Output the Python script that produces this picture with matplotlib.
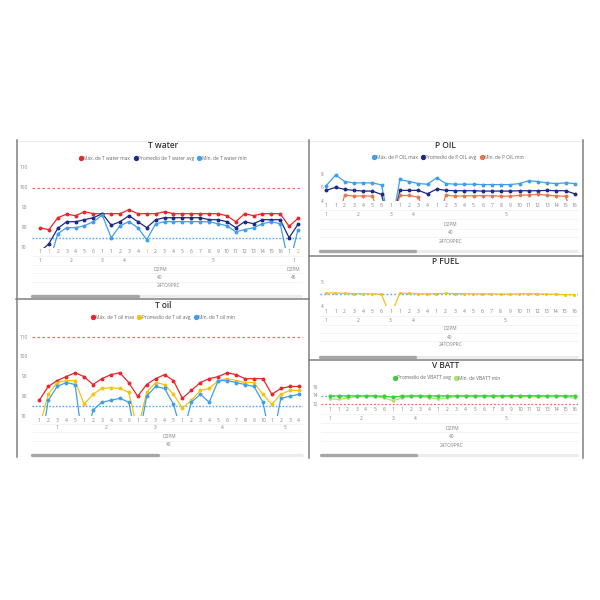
import matplotlib
matplotlib.use("Agg")
import matplotlib.pyplot as plt
from matplotlib.lines import Line2D
from matplotlib.transforms import blended_transform_factory as blend

plt.rcParams['font.family'] = ['Open Sans', 'DejaVu Sans']

# ---- data ----
# T water (30 points)
tw_max = [80, 79, 85, 86.8, 86, 88, 87, 87, 87, 87, 89, 87, 87, 87, 88, 87, 87, 87, 87, 87,
          87, 86, 83, 87, 86, 87, 87, 87, 80.7, 84.7]
tw_avg = [68, 72, 79.7, 83, 83, 84, 85, 87, 81.3, 83, 86, 83, 80, 84, 85, 85, 85, 85, 85, 84,
          84, 83, 80, 83, 82, 84, 84, 84, 75, 81.7]
tw_min = [62, 62, 77, 80, 80, 81, 83, 86.3, 75, 81, 83, 80, 74, 82, 83, 83, 83, 83, 83, 83,
          82, 81, 78, 79, 80, 82, 83, 82, 61, 79]
tw_lvl1 = ['1', '1', '2', '3', '4', '5', '6', '1', '1', '2', '3', '4'] + \
          [str(i) for i in range(1, 17)] + ['1', '2']
tw_groups = [[('1', 0, 0), ('2', 1, 6), ('3', 7, 7), ('4', 8, 11), ('5', 12, 27), ('1', 28, 29)],
             [('D2PM', 0, 27), ('D2PM', 28, 29)],
             [('40', 0, 27), ('46', 28, 29)],
             [('24TO9PRC', 0, 29)]]
tw_orange = [1, 12, 29]

# T oil (30 points)
to_max = [78, 85, 88, 90, 92, 90, 86, 89, 91, 92, 87, 80, 86, 89, 91, 88, 79, 83, 87, 89,
          90, 92, 91, 89, 89, 89, 81, 84, 85, 85]
to_avg = [64, 81, 87, 88, 88, 76, 81, 84, 84.4, 84, 82, 63, 82, 87, 86, 81, 74, 78, 83, 84,
          88, 89, 88, 87, 87, 81, 76, 81, 83, 83]
to_min = [50, 78, 85, 87, 86, 52, 73, 77, 78, 79, 77, 55, 80, 85, 84, 76, 60, 77, 81, 77,
          88, 88, 87, 86, 85, 77, 55, 79, 80, 81]
to_lvl1 = [str(i) for i in range(1, 6)] + [str(i) for i in range(1, 7)] + \
          [str(i) for i in range(1, 6)] + [str(i) for i in range(1, 11)] + [str(i) for i in range(1, 5)]
to_groups = [[('1', 0, 4), ('2', 5, 10), ('3', 11, 15), ('4', 16, 25), ('5', 26, 29)],
             [('D2PM', 0, 29)],
             [('40', 0, 29)]]

# right column charts share one 28 point axis
r_lvl1 = ['1', '1', '2', '3', '4', '5', '6', '1', '1', '2', '3', '4'] + [str(i) for i in range(1, 17)]
r_groups = [[('1', 0, 0), ('2', 1, 6), ('3', 7, 7), ('4', 8, 11), ('5', 12, 27)],
            [('D2PM', 0, 27)],
            [('40', 0, 27)],
            [('24TO9PRC', 0, 27)]]

po_max = [6.3, 7.85, 6.9, 6.7, 6.7, 6.7, 6.4, -0.2, 7.2, 6.9, 6.6, 6.5, 7.45, 6.6, 6.5, 6.5,
          6.5, 6.45, 6.45, 6.45, 6.45, 6.6, 7.0, 6.9, 6.7, 6.6, 6.7, 6.6]
po_avg = [5.6, 6.05, 5.75, 5.6, 5.5, 5.5, 5.0, -0.2, 5.6, 5.6, 5.6, 5.1, 5.8, 5.6, 5.55, 5.55,
          5.55, 5.5, 5.5, 5.5, 5.5, 5.55, 5.55, 5.55, 5.6, 5.55, 5.55, 5.1]
po_min = [0, 0, 4.93, 4.75, 4.8, 4.73, 1.4, 0, 4.85, 4.85, 4.6, 1.3, 0.5, 4.93, 4.75, 4.8,
          4.8, 4.83, 4.8, 4.75, 4.75, 4.88, 4.93, 5.02, 4.9, 4.8, 4.73, 1.0]

pf_val = [4.55, 4.55, 4.53, 4.52, 4.52, 4.51, 4.50, 3.55, 4.54, 4.53, 4.51, 4.51, 4.52, 4.53,
          4.52, 4.52, 4.51, 4.51, 4.51, 4.50, 4.50, 4.51, 4.52, 4.51, 4.50, 4.49, 4.48, 4.47]

vb_avg = [14.0, 14.0, 14.0, 14.0, 14.0, 14.0, 13.9, 13.7, 13.95, 14.0, 14.0, 14.0, 14.0, 14.0,
          14.0, 14.0, 14.0, 14.0, 14.0, 14.0, 14.0, 14.05, 14.05, 14.0, 14.0, 14.0, 14.0, 14.0]
vb_min = [13.3, 13.2, 13.5, 13.9, 13.9, 13.9, 13.5, 12.9, 13.5, 13.9, 13.9, 13.5, 13.3, 13.5,
          13.9, 13.9, 13.9, 13.9, 13.9, 13.9, 13.9, 13.9, 13.9, 13.9, 13.9, 13.9, 13.9, 13.4]

RED = '#e8262f'
NAVY = '#1c2a86'
LBLUE = '#3f9fe8'
YELLOW = '#f2c40f'
ORANGE = '#e8784c'
GREEN = '#3ccf3c'
LGREEN = '#a9e26e'
REFRED = '#f06b6b'
REFBLUE = '#5aa8ec'
GRAYTXT = '#808080'

fig = plt.figure(figsize=(6, 6), dpi=100)
bg = fig.add_axes([0, 0, 1, 1])
bg.set_xlim(0, 600)
bg.set_ylim(600, 0)
bg.axis('off')


def make_ax(box, xpts, n, yref, ypx):
    left, top, right, bottom = box
    x0, x1 = xpts
    ax = fig.add_axes([left / 600, 1 - bottom / 600, (right - left) / 600, (bottom - top) / 600])
    dx = (x1 - x0) / (n - 1)
    ax.set_xlim(-(x0 - left) / dx, n - 1 + (right - x1) / dx)
    va, vb = yref
    pa, pb = ypx
    k = (va - vb) / (pb - pa)
    ax.set_ylim(vb - (bottom - pb) * k, va + (pa - top) * k)
    ax.patch.set_alpha(0)
    ax.axis('off')
    return ax


def yticks(ax, ticks, xpx):
    tr = blend(bg.transData, ax.transData)
    for t in ticks:
        ax.text(xpx, t, str(t), transform=tr, ha='center', va='center', fontsize=3.4, color=GRAYTXT)


def xlabels(ax, lvl1, groups, rows, left, right, orange=()):
    tr = blend(ax.transData, bg.transData)
    for i, s in enumerate(lvl1):
        c = '#e39b3b' if i in orange else GRAYTXT
        ax.text(i, rows[0], s, transform=tr, ha='center', va='center', fontsize=3.6, color=c)
    for row, grp in zip(rows[1:], groups):
        for s, a, b in grp:
            ax.text((a + b) / 2, row, s, transform=tr, ha='center', va='center', fontsize=3.5, color=GRAYTXT)
    for r0, r1 in zip(rows[:-1], rows[1:]):
        m = (r0 + r1) / 2
        bg.plot([left, right], [m, m], color='#f0f0f0', lw=0.5)


def title(x, y, s):
    bg.text(x, y, s, ha='center', va='center', fontsize=6.0, color='#333333', fontweight='semibold')


def legend(cx, cy, items):
    hs = [Line2D([], [], marker='o', ls='', color=c, ms=2.8, label=l) for l, c in items]
    fig.legend(handles=hs, loc='center', bbox_to_anchor=(cx / 600, 1 - cy / 600), ncol=len(hs),
               frameon=False, fontsize=3.5, labelcolor='#666666', handlelength=0.6,
               handletextpad=0.15, columnspacing=0.8, borderpad=0, borderaxespad=0)


def scrollbar(y, x0, x1, xend):
    bg.plot([x0, xend], [y, y], color='#ececec', lw=2.2, solid_capstyle='butt')
    bg.plot([x0, x1], [y, y], color='#a6a6a6', lw=2.4, solid_capstyle='round')


def series(ax, vals, color, ms=1.8):
    ax.plot(range(len(vals)), vals, color=color, lw=0.9, marker='o', ms=ms)


# ---- T water ----
ax = make_ax((31.5, 164, 302, 247.7), (40, 298), 30, (110, 70), (167.7, 247.7))
ax.axhline(100, color=REFRED, ls=(0, (2, 2)), lw=0.9)
ax.axhline(75, color=REFBLUE, ls=(0, (1.2, 1.2)), lw=1.0)
series(ax, tw_max, RED)
series(ax, tw_avg, NAVY)
series(ax, tw_min, LBLUE)
yticks(ax, [70, 80, 90, 100, 110], 24)
xlabels(ax, tw_lvl1, tw_groups, [251.7, 260, 269.3, 277.3, 285.7], 31.5, 302, tw_orange)
title(163, 145, 'T water')
legend(163, 158.3, [('Máx. de T water max', RED), ('Promedio de T water avg', NAVY),
                    ('Mín. de T water min', LBLUE)])
scrollbar(295.7, 31.7, 138, 302)

# ---- T oil ----
ax = make_ax((31.5, 325, 303, 416), (39.3, 298.7), 30, (110, 70), (337.3, 416))
ax.axhline(110, color=REFRED, ls=(0, (2, 2)), lw=0.9)
ax.axhline(75, color=REFBLUE, ls=(0, (1.2, 1.2)), lw=1.0)
series(ax, to_max, RED)
series(ax, to_avg, YELLOW)
series(ax, to_min, LBLUE)
yticks(ax, [70, 80, 90, 100, 110], 24)
xlabels(ax, to_lvl1, to_groups, [421, 427.8, 436.7, 445], 31.5, 303)
title(163, 305, 'T oil')
legend(163, 317.7, [('Máx. de T oil max', RED), ('Promedio de T oil avg', YELLOW),
                    ('Mín. de T oil min', LBLUE)])
scrollbar(455, 31.7, 158, 303)

# ---- P OIL ----
ax = make_ax((320, 163, 578, 201.3), (326.3, 574.7), 28, (8, 4), (174, 201.3))
series(ax, po_max, LBLUE)
series(ax, po_avg, NAVY)
series(ax, po_min, ORANGE)
yticks(ax, [4, 6, 8], 322)
xlabels(ax, r_lvl1, r_groups, [205.7, 214, 224.3, 232.7, 241.7], 320, 578)
title(445, 145, 'P OIL')
legend(448, 157.7, [('Máx. de P OIL max', LBLUE), ('Promedio de P OIL avg', NAVY),
                    ('Mín. de P OIL min', ORANGE)])
scrollbar(251, 319.7, 414.7, 578)

# ---- P FUEL ----
ax = make_ax((320, 272, 578, 306), (326.3, 574), 28, (5, 4), (282.3, 306))
ax.axhline(4.5, color=REFBLUE, ls=(0, (1.2, 1.6)), lw=1.0)
series(ax, pf_val, YELLOW, ms=1.2)
yticks(ax, [4, 5], 322)
xlabels(ax, r_lvl1, r_groups, [311.7, 320, 329, 337.7, 345], 320, 578)
title(445.7, 261, 'P FUEL')
scrollbar(356.7, 320, 414.7, 578)

# ---- V BATT ----
ax = make_ax((321, 385, 578, 406), (329.5, 574.5), 28, (16, 12), (387.3, 404.5))
ax.axhline(12, color=REFRED, ls=(0, (1.5, 1.5)), lw=0.9)
ax.axhline(14, color=REFBLUE, ls=(0, (1.2, 1.6)), lw=1.0)
series(ax, vb_min, LGREEN, ms=1.0)
series(ax, vb_avg, GREEN, ms=2.0)
yticks(ax, [12, 14, 16], 315)
xlabels(ax, r_lvl1, r_groups, [409.7, 418, 428, 436.3, 445.3], 321, 578)
title(445.7, 365, 'V BATT')
legend(447, 378, [('Promedio de VBATT avg', GREEN), ('Mín. de VBATT min', LGREEN)])
scrollbar(455.3, 321, 416, 578)

# ---- panel borders ----
bc = '#808080'
bg.plot([16, 583], [140.5, 140.5], color='#e6e6e6', lw=0.6)
bg.plot([16.5, 16.5], [140, 457], color=bc, lw=1.1)
bg.plot([308.5, 308.5], [140, 458], color=bc, lw=1.1)
bg.plot([583, 583], [140, 458], color=bc, lw=1.1)
bg.plot([16, 308.5], [298.5, 298.5], color=bc, lw=1.1)
bg.plot([308.5, 583], [255.5, 255.5], color=bc, lw=1.1)
bg.plot([308.5, 583], [360, 360], color=bc, lw=1.1)

fig.savefig('out.png', dpi=100)
